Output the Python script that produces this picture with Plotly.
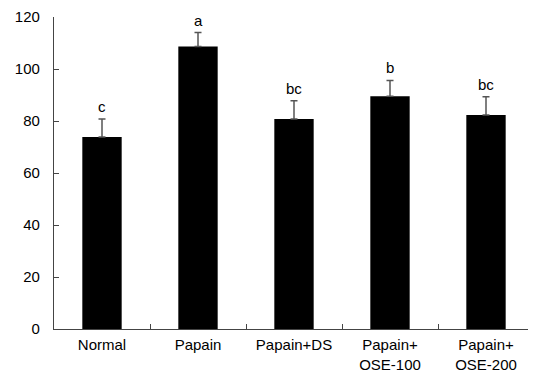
import plotly.graph_objects as go

categories = ["Normal", "Papain", "Papain+DS", "Papain+<br>OSE-100", "Papain+<br>OSE-200"]
values = [73.8, 108.7, 80.8, 89.5, 82.3]
errors = [7.0, 5.3, 7.0, 6.1, 7.0]
letters = ["c", "a", "bc", "b", "bc"]
y_ticks = [0, 20, 40, 60, 80, 100, 120]

FONT = "Liberation Sans, Arial, sans-serif"

fig = go.Figure()
fig.add_trace(go.Bar(
    x=categories, y=values, width=0.41,
    marker=dict(color="black", line=dict(width=0)),
    error_y=dict(type="data", array=errors, arrayminus=[0] * len(errors),
                 symmetric=False, color="#555555", thickness=1.5, width=3.5),
))

for c, v, e, t in zip(categories, values, errors, letters):
    fig.add_annotation(x=c, y=v + e, text=t, showarrow=False, yanchor="bottom",
                       yshift=2, font=dict(family=FONT, size=15, color="black"))

# page body has an 8px margin, so the figure is sized/offset to compensate
fig.update_layout(
    width=528, height=366,
    margin=dict(l=46, r=2, t=9, b=45),
    plot_bgcolor="white", paper_bgcolor="white",
    showlegend=False,
    font=dict(family=FONT, size=15, color="black"),
)
fig.update_xaxes(
    type="category", range=[-0.5, 4.5], automargin=False,
    showline=True, linecolor="#444444", linewidth=1.2,
    ticks="inside", tickson="boundaries", ticklen=5, tickcolor="#444444",
    showgrid=False, zeroline=False, ticklabelstandoff=2,
)
fig.update_yaxes(
    range=[0, 120], tickvals=y_ticks, automargin=False,
    showline=True, linecolor="#444444", linewidth=1.2,
    ticks="inside", ticklen=5, tickcolor="#444444",
    showgrid=False, zeroline=False, ticklabelstandoff=10,
)

fig.write_html("out.html")
